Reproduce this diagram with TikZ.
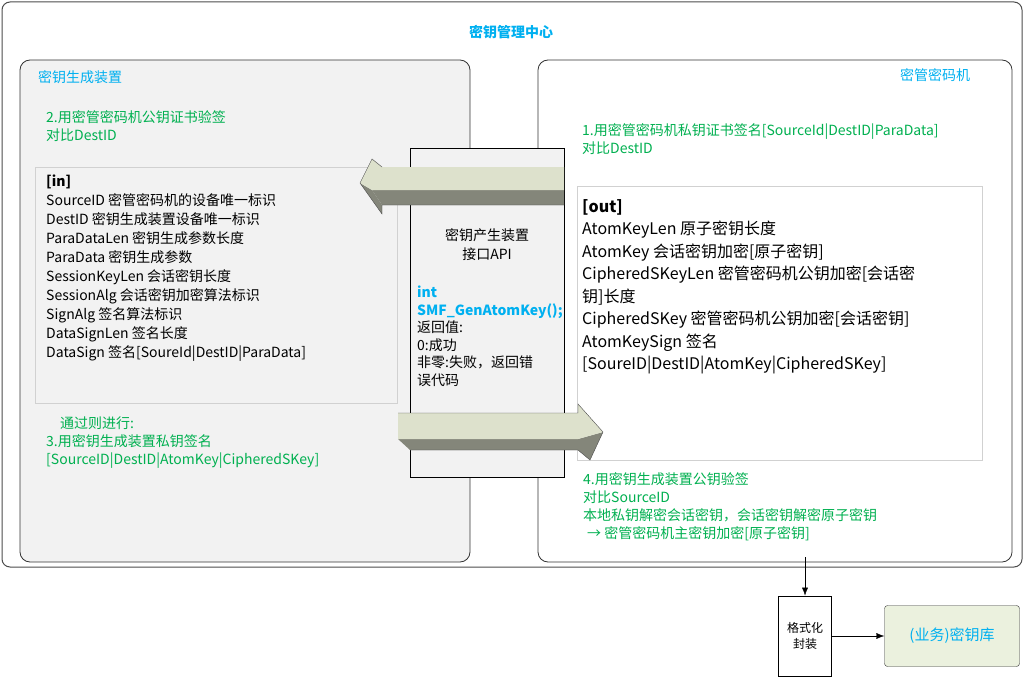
\documentclass[tikz,border=0pt]{standalone}
\usepackage{fontspec}
\setmainfont{Noto Sans CJK SC}
\newfontfamily\cjk{Noto Sans CJK SC}
\usetikzlibrary{arrows.meta,positioning}
\definecolor{titlecyan}{HTML}{00B0F0}
\definecolor{stepgreen}{HTML}{00B050}
\definecolor{panelgray}{HTML}{F2F2F2}
\definecolor{lightface}{HTML}{DDE1CC}
\definecolor{darkface}{HTML}{84867A}
\definecolor{storefill}{HTML}{EBF1DE}
\tikzset{
  panel/.style={draw=black!80,rounded corners=10pt,line width=0.8pt},
  listbox/.style={draw=black!18,line width=1pt},
  cyantext/.style={text=titlecyan,font=\fontsize{14}{16}\selectfont,inner sep=0pt},
  greentext/.style={text=stepgreen,font=\fontsize{14}{18}\selectfont,align=left,anchor=north west,inner sep=0pt},
  listtext/.style={font=\fontsize{14}{19}\selectfont,align=left,anchor=north west,inner sep=0pt},
}
\begin{document}
\begin{tikzpicture}[x=1pt,y=-1pt]
\useasboundingbox (0,0) rectangle (1025,677);
% outer frame
\draw[draw=black!70,line width=1pt,rounded corners=8pt] (2,2) rectangle (1022,567);
\node[cyantext,font=\bfseries\fontsize{14}{16}\selectfont] (center) at (511,32) {密钥管理中心};
% generator side
\draw[panel,fill=panelgray] (20,60) rectangle (470,562);
\node[cyantext,anchor=west] (genlabel) at (38,77) {密钥生成装置};
\node[greentext] (step2) at (46,110) {2.用密管密码机公钥证书验签\\对比DestID};
\draw[listbox,fill=panelgray] (35,167) rectangle (397,403);
\node[listtext] (inlist) at (46,175) {\textbf{[in]}\\SourceID 密管密码机的设备唯一标识\\DestID 密钥生成装置设备唯一标识\\ParaDataLen 密钥生成参数长度\\ParaData 密钥生成参数\\SessionKeyLen 会话密钥长度\\SessionAlg 会话密钥加密算法标识\\SignAlg 签名算法标识\\DataSignLen 签名长度\\DataSign 签名[SoureId|DestID|ParaData]};
\node[greentext] (step3) at (46,417) {\hspace{14pt}通过则进行:\\3.用密钥生成装置私钥签名\\{}[SourceID|DestID|AtomKey|CipheredSKey]};
% crypto machine side
\draw[panel,fill=white] (538,60) rectangle (1012,562);
\node[cyantext] (hsmlabel) at (935,75) {密管密码机};
\node[greentext] (step1) at (582,123) {1.用密管密码机私钥证书签名[SourceId|DestID|ParaData]\\对比DestID};
\draw[listbox,fill=white] (577,186) rectangle (982,460);
\node[listtext,font=\fontsize{16}{22.5}\selectfont] (outlist) at (582,199) {\textbf{[out]}\\AtomKeyLen 原子密钥长度\\AtomKey 会话密钥加密[原子密钥]\\CipheredSKeyLen 密管密码机公钥加密[会话密\\钥]长度\\CipheredSKey 密管密码机公钥加密[会话密钥]\\AtomKeySign 签名\\{}[SoureID|DestID|AtomKey|CipheredSKey]};
\node[greentext] (step4) at (583,472) {4.用密钥生成装置公钥验签\\对比SourceID\\本地私钥解密会话密钥，会话密钥解密原子密钥\\\hspace{4pt}→ 密管密码机主密钥加密[原子密钥]};
% interface box
\draw[draw=black,fill=panelgray,line width=0.8pt] (410,148) rectangle (564,477);
\node[font=\fontsize{14}{19}\selectfont,align=center] (api) at (487,245) {密钥产生装置\\接口API};
\node[listtext,font=\fontsize{14}{17.5}\selectfont] (apicall) at (417,286) {\textcolor{titlecyan}{\textbf{int}}\\\textcolor{titlecyan}{\textbf{SMF\_GenAtomKey();}}\\返回值:\\0:成功\\非零:失败，返回错\\误代码};
% block arrow to the left
\fill[darkface] (564,190) -- (372,190) -- (382,205) -- (564,205) -- cycle;
\fill[darkface] (360,183) -- (372,190) -- (382,205) -- (382,214) -- cycle;
\fill[lightface] (564,167) -- (382,167) -- (372,159) -- (360,183) -- (372,190) -- (564,190) -- cycle;
\draw[black!70] (382,167) -- (372,159) -- (360,183) -- (382,214) -- (382,205) -- (564,205);
% block arrow to the right
\fill[darkface] (398,439) -- (578,439) -- (578,450) -- (410,450) -- cycle;
\fill[darkface] (603,432) -- (578,439) -- (578,450) -- (590,460) -- cycle;
\fill[lightface] (398,413) -- (578,413) -- (578,404) -- (603,432) -- (578,439) -- (398,439) -- cycle;
\draw[black!70] (398,413) -- (578,413) -- (578,404) -- (603,432) -- (590,460) -- (578,450) -- (410,450);
% output chain
\node[draw=black,line width=0.8pt,minimum width=53pt,minimum height=80pt,font=\fontsize{12}{16}\selectfont,align=center,inner sep=0pt] (pack) at (805,636) {格式化\\封装};
\node[draw=black!80,fill=storefill,rounded corners=3pt,minimum width=135pt,minimum height=61pt,text=titlecyan,font=\fontsize{15}{16}\selectfont] (store) at (952,636) {(业务)密钥库};
\coordinate (hsmout) at (805,557);
\draw[-{Latex[length=8pt,width=6pt]}] (hsmout) -- (pack.north);
\draw[-{Latex[length=8pt,width=6pt]}] (pack) -- (store);
\end{tikzpicture}
\end{document}
